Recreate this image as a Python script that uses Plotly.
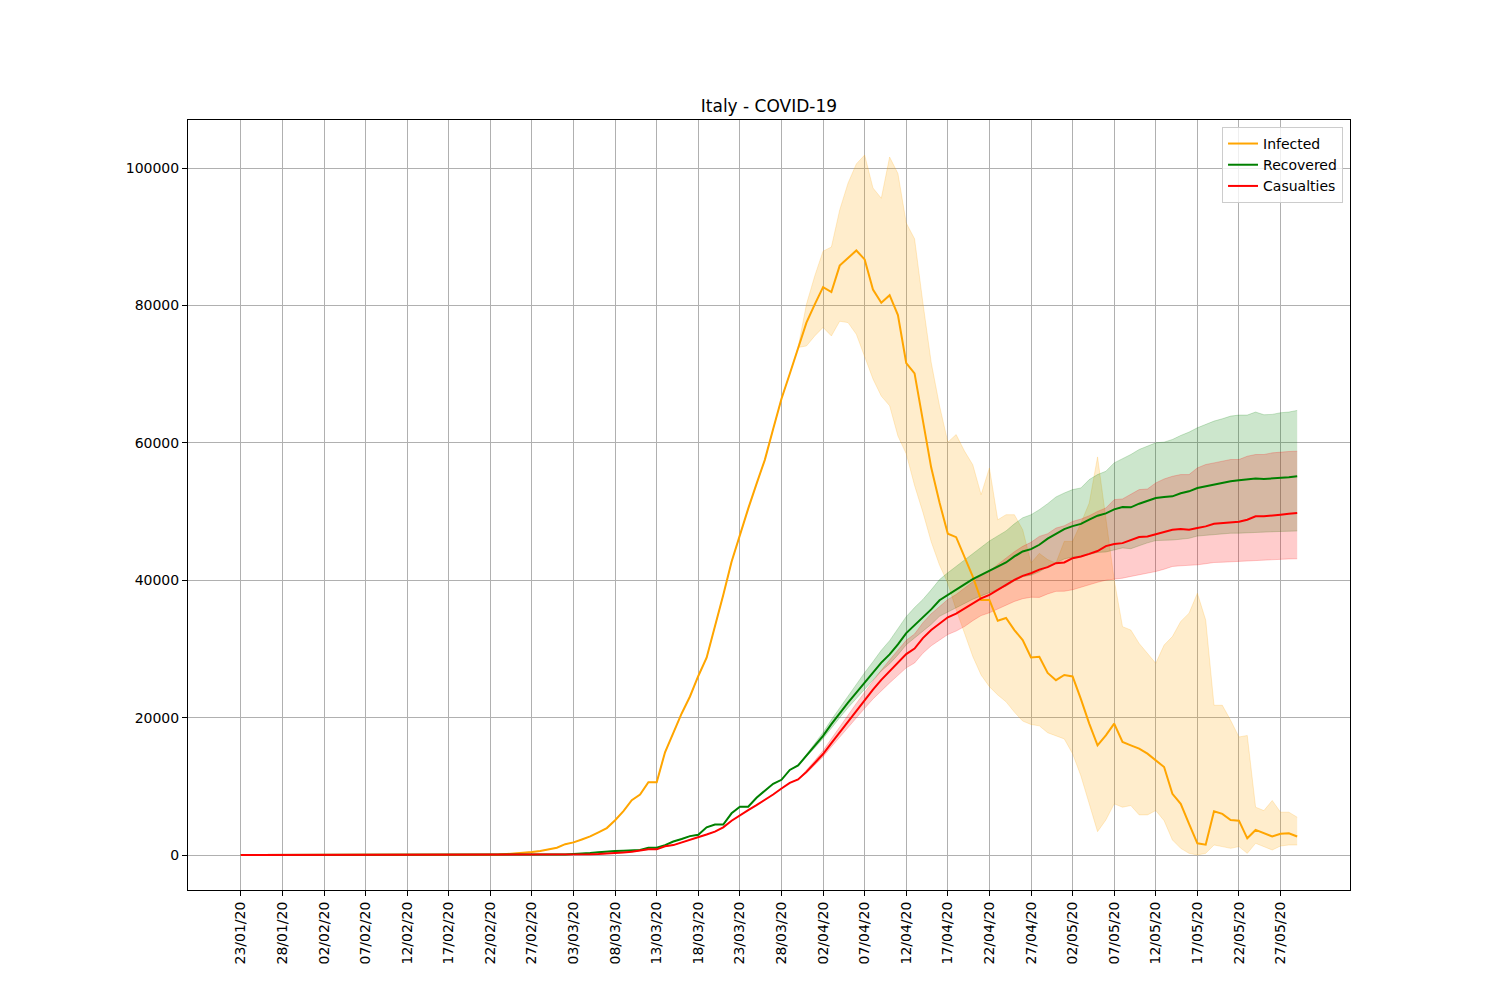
import pandas as pd
import plotly.graph_objects as go

start_date = "2020-01-23"

infected = [0, 0, 0, 0, 0, 0, 0, 0, 0,
            2, 2, 2, 2, 2, 2,
            3, 3, 3, 3, 3, 3, 3, 3, 3, 3, 3, 3, 3, 3, 3,
            19, 59, 150, 221, 311, 438, 593, 821, 1053, 1577,
            1835, 2263, 2706, 3296, 3916, 5061, 6387, 7985, 8794, 10590,
            10590, 14955, 17750, 20603, 23073, 26062, 28710, 33190, 37860, 42681,
            46638, 50418, 54030, 57521, 62013, 66414, 70065, 73880, 77500, 80160,
            82670, 81950, 85800, 86900, 88000, 86700, 82300, 80400, 81500, 78600,
            71600, 70100, 63500, 56400, 51300, 46760, 46270, 43450, 40530, 37130,
            37130, 34100, 34500, 32750, 31300, 28760, 28860, 26500, 25450, 26200,
            26000, 22700, 19130, 15960, 17420, 19130, 16450, 15960, 15480, 14750,
            13770, 12800, 8900, 7450, 4520, 1700, 1500, 6370, 5980, 5100,
            5000, 2430, 3650, 3160, 2700, 3100, 3160, 2700]

recovered = [0] * 31 + [
    1, 1, 1, 1, 3, 45, 46, 46, 83,
    149, 160, 276, 414, 523, 589, 622, 724, 724, 1045,
    1045, 1439, 1966, 2335, 2749, 2941, 4025, 4440, 4440, 6072,
    7024, 7024, 8326, 9362, 10361, 10950, 12384, 13030, 14440, 15900,
    17350, 19040, 20640, 22190, 23640, 25090, 26540, 28000, 29200, 30660,
    32300, 33470, 34500, 35750, 37090, 37890, 38610, 39400, 40150, 40780,
    41410, 42000, 42580, 43460, 44190, 44530, 45160, 46060, 46790, 47450,
    47880, 48200, 48810, 49390, 49730, 50320, 50660, 50610, 51140, 51580,
    51970, 52120, 52210, 52650, 52940, 53430, 53670, 54010, 54160, 54400,
    54550, 54650, 54790, 54740, 54790, 54840, 54990, 55130]

casualties = [0] * 30 + [
    1, 2, 3, 7, 10, 12, 17, 21, 29, 34,
    52, 79, 107, 148, 197, 233, 366, 463, 631, 827,
    827, 1266, 1441, 1809, 2158, 2503, 2978, 3405, 4032, 4990,
    5800, 6530, 7260, 7990, 8810, 9680, 10500, 11000, 12100, 13390,
    14700, 16300, 17870, 19470, 21000, 22500, 24060, 25500, 26800, 28050,
    29250, 30050, 31570, 32750, 33700, 34600, 35150, 35850, 36550, 37370,
    37860, 38590, 39320, 40050, 40630, 41020, 41550, 41900, 42480, 42580,
    43210, 43460, 43830, 44250, 44970, 45260, 45400, 45890, 46280, 46380,
    46720, 46960, 47350, 47450, 47350, 47590, 47840, 48220, 48320, 48420,
    48520, 48810, 49300, 49300, 49390, 49540, 49680, 49780]

# confidence bands (tails where the band is visible)
inf_band_start = 67
inf_upper_tail = [73880, 80160, 84300,
                  87900, 88500, 93900, 97800, 100600, 101900, 97100, 95600, 101600, 99200,
                  92000, 89700, 80400, 71700, 65400, 60100, 61200, 58800, 56800, 52460,
                  56350, 48800, 49540, 49540, 47350, 42500, 43900, 43000, 42500, 45650,
                  45650, 48300, 51240, 57950, 49000, 40050, 33240, 32750, 30800, 29400,
                  27900, 30560, 31800, 34000, 35200, 38100, 34200, 21800, 21800, 19600,
                  17180, 17400, 6960, 6470, 7930, 6230, 6230, 5500]
inf_lower_tail = [73880, 74100, 75560,
                  76800, 75560, 77700, 77500, 75800, 72700, 69300, 66800, 65400, 61000,
                  58400, 53800, 49900, 45600, 42200, 39560, 35700, 32300, 28900, 26200,
                  24500, 23300, 22300, 20800, 19500, 19000, 18800, 17800, 17400, 16900,
                  14750, 11500, 7450, 3400, 5100, 7450, 6960, 7200, 5840, 5840,
                  6470, 5000, 2190, 970, 240, 0, 240, 1460, 1220, 970,
                  1220, 240, 1700, 1220, 730, 1310, 1460, 1460]

band_start = 68
rec_upper_tail = [14640, 16250,
                  17850, 19690, 21440, 23140, 24940, 26540, 28140, 29800, 31200, 32860,
                  34700, 36020, 37200, 38600, 40090, 41090, 42010, 43000, 43950, 44830,
                  45710, 46450, 47180, 48210, 49090, 49530, 50270, 51140, 52120, 52700,
                  53190, 53430, 54650, 55380, 55860, 57080, 57660, 58300, 59030, 59510,
                  60000, 60100, 60490, 61070, 61560, 62190, 62680, 63160, 63500, 63890,
                  64040, 64040, 64480, 64090, 64140, 64380, 64480, 64720]
rec_lower_tail = [14240, 15600,
                  16950, 18520, 19990, 21440, 22790, 24140, 25460, 26800, 27830, 29130,
                  30600, 31610, 32480, 33570, 34750, 35390, 35970, 36620, 37230, 37720,
                  38210, 38680, 39140, 39900, 40510, 40730, 41220, 41980, 42570, 43090,
                  43380, 43420, 43750, 44050, 44110, 44420, 44700, 44590, 45060, 45440,
                  45770, 45760, 45850, 45970, 46100, 46430, 46530, 46730, 46740, 46840,
                  46850, 46910, 47010, 47000, 47070, 47100, 47130, 47170]
cas_upper_tail = [12300, 13740,
                  15200, 16950, 18670, 20400, 22070, 23700, 25360, 26900, 28400, 29850,
                  31250, 32170, 33810, 35110, 36180, 37200, 37930, 38810, 39690, 40690,
                  41360, 42290, 43220, 44150, 44930, 45520, 46380, 46770, 47590, 47930,
                  48560, 48900, 49390, 50020, 50510, 51730, 51830, 52460, 53190, 53280,
                  54160, 54740, 55130, 55380, 55380, 56350, 56840, 57080, 57320, 57570,
                  57570, 58050, 58300, 58300, 58540, 58690, 58740, 58780]
cas_lower_tail = [11900, 13090,
                  14300, 15750, 17170, 18620, 20000, 21350, 22710, 23950, 25050, 26150,
                  27250, 27950, 29370, 30450, 31300, 32100, 32600, 33250, 34110, 34850,
                  35260, 35810, 36360, 36910, 37310, 37520, 37500, 38000, 38380, 38400,
                  38610, 39000, 39350, 39700, 40000, 40100, 40300, 40550, 40780, 41000,
                  41270, 41600, 42000, 42100, 42150, 42240, 42400, 42580, 42620, 42680,
                  42730, 42800, 42900, 42950, 43070, 43090, 43100, 43120]

inf_upper = infected[:inf_band_start] + inf_upper_tail
inf_lower = infected[:inf_band_start] + inf_lower_tail
rec_upper = recovered[:band_start] + rec_upper_tail
rec_lower = recovered[:band_start] + rec_lower_tail
cas_upper = casualties[:band_start] + cas_upper_tail
cas_lower = casualties[:band_start] + cas_lower_tail

dates = pd.date_range(start_date, periods=len(infected), freq="D")
tick_dates = dates[::5]
tick_text = [d.strftime("%d/%m/%y") for d in tick_dates]

series = [
    ("Infected", infected, inf_upper, inf_lower, "rgb(255,165,0)", "rgba(255,165,0,0.2)"),
    ("Recovered", recovered, rec_upper, rec_lower, "rgb(0,128,0)", "rgba(0,128,0,0.2)"),
    ("Casualties", casualties, cas_upper, cas_lower, "rgb(255,0,0)", "rgba(255,0,0,0.2)"),
]

fig = go.Figure()
for name, vals, up, lo, col, fcol in series:
    fig.add_trace(go.Scatter(x=dates, y=up, mode="lines", line=dict(color=fcol, width=1),
                             showlegend=False, hoverinfo="skip"))
    fig.add_trace(go.Scatter(x=dates, y=lo, mode="lines", line=dict(color=fcol, width=1),
                             fill="tonexty", fillcolor=fcol, showlegend=False, hoverinfo="skip"))
for name, vals, up, lo, col, fcol in series:
    fig.add_trace(go.Scatter(x=dates, y=vals, mode="lines", name=name,
                             line=dict(color=col, width=2)))

n = len(dates) - 1
pad = pd.Timedelta(days=n * 0.05)
ymax = max(inf_upper)
ypad = ymax * 0.05

font = "DejaVu Sans"
fig.update_layout(
    width=1500, height=1000,
    paper_bgcolor="white", plot_bgcolor="white",
    margin=dict(l=180, r=158, t=112, b=118),
    font=dict(family=font, size=14, color="black"),
    title=dict(text="Italy - COVID-19", x=0.5073, xref="container", xanchor="center",
               y=0.902, yref="container", yanchor="middle",
               font=dict(family=font, size=17, color="black")),
    legend=dict(x=0.994, y=0.991, xanchor="right", yanchor="top",
                bgcolor="rgba(255,255,255,0.8)", bordercolor="#cccccc", borderwidth=1,
                font=dict(family=font, size=14), itemwidth=30, traceorder="normal"),
    showlegend=True,
)
fig.update_xaxes(
    range=[dates[0] - pad, dates[-1] + pad],
    tickvals=list(tick_dates), ticktext=tick_text, tickangle=-90,
    showgrid=True, gridcolor="#b0b0b0", gridwidth=1,
    ticks="outside", ticklen=5, tickcolor="black",
    showline=True, linecolor="black", linewidth=1, mirror=True, zeroline=False,
)
yticks = [0, 20000, 40000, 60000, 80000, 100000]
fig.update_yaxes(
    range=[-ypad, ymax + ypad],
    tickvals=yticks, ticktext=[str(v) for v in yticks],
    showgrid=True, gridcolor="#b0b0b0", gridwidth=1,
    ticks="outside", ticklen=5, tickcolor="black",
    showline=True, linecolor="black", linewidth=1, mirror=True, zeroline=False,
)

fig.write_html("out.html")
